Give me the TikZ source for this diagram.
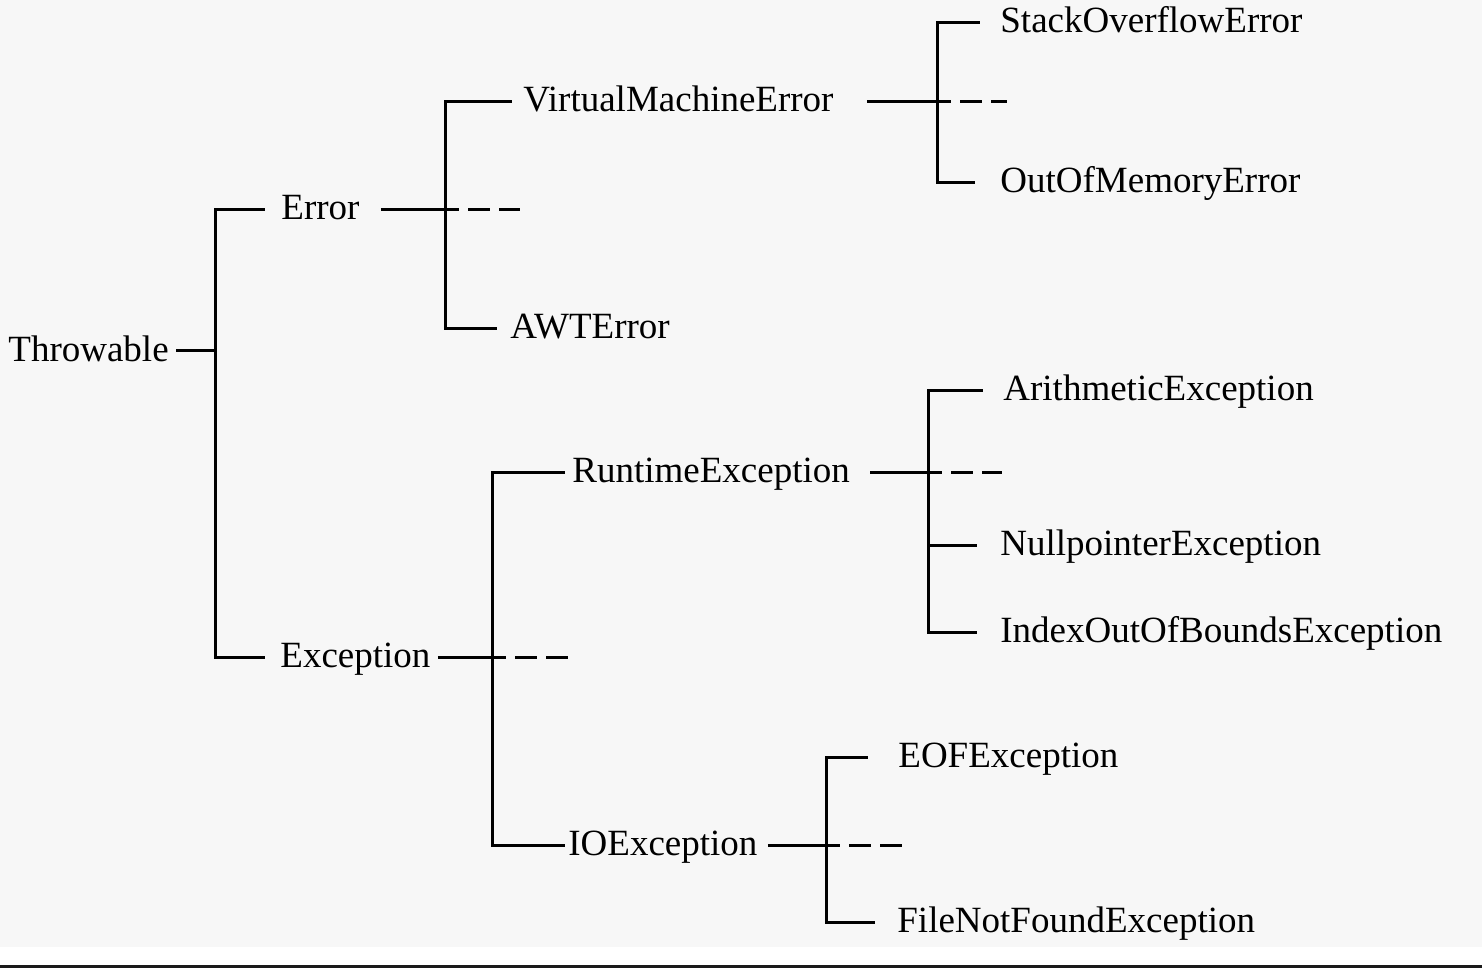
\documentclass[tikz,border=0pt]{standalone}
\usepackage{fontspec}
\setmainfont{Liberation Serif}
\usetikzlibrary{positioning}
\definecolor{paper}{HTML}{F7F7F7}
\definecolor{edge}{HTML}{1A1A1A}

\begin{document}
\begin{tikzpicture}[x=0.5pt, y=-0.5pt,
    cls/.style={anchor=base west, inner sep=0pt, font=\fontsize{18.5}{22}\selectfont},
    link/.style={line width=1.5pt},
    more/.style={line width=1.5pt, dash pattern=on 11pt off 4.5pt, dash phase=4pt}]
    \useasboundingbox (0,0) rectangle (1482,968);
    \fill[white] (0,0) rectangle (1482,968);
    \fill[paper] (0,0) rectangle (1482,947);
    \fill[edge] (0,965) rectangle (1482,968);

    % Nodes
    \node[cls] (throwable) at (8,361) {Throwable};
    \node[cls] (error) at (281,220) {Error};
    \node[cls] (vme) at (523,112) {VirtualMachineError};
    \node[cls] (awt) at (510,338) {AWTError};
    \node[cls] (soe) at (1000,33) {StackOverflowError};
    \node[cls] (oom) at (1000,193) {OutOfMemoryError};
    \node[cls] (exception) at (280,667) {Exception};
    \node[cls] (runtime) at (572,482) {RuntimeException};
    \node[cls] (io) at (568,855) {IOException};
    \node[cls] (arith) at (1003,400) {ArithmeticException};
    \node[cls] (nullp) at (1000,555) {NullpointerException};
    \node[cls] (index) at (1000,642) {IndexOutOfBoundsException};
    \node[cls] (eof) at (898,767) {EOFException};
    \node[cls] (fnf) at (897,932) {FileNotFoundException};

    % Junctions
    \coordinate (jt) at (215,350);
    \coordinate (je) at (445,210);
    \coordinate (jv) at (937,102);
    \coordinate (jx) at (492,657);
    \coordinate (jr) at (928,472);
    \coordinate (ji) at (826,845);
    \coordinate (je-tail) at (520,210);
    \coordinate (jv-tail) at (1007,102);
    \coordinate (jx-tail) at (570,657);
    \coordinate (jr-tail) at (1002,472);
    \coordinate (ji-tail) at (902,845);

    % Throwable
    \draw[link] ([xshift=3.5pt,yshift=5.5pt]throwable.base east) -- (jt);
    \draw[link] (jt) |- ([xshift=-8pt,yshift=5pt]error.base west);
    \draw[link] (jt) |- ([xshift=-7.5pt,yshift=5pt]exception.base west);

    % Error
    \draw[link] ([xshift=10.5pt,yshift=5pt]error.base east) -- (je);
    \draw[more] (je) -- (je-tail);
    \draw[link] (je) |- ([xshift=-5.5pt,yshift=5pt]vme.base west);
    \draw[link] (je) |- ([xshift=-6.5pt,yshift=5pt]awt.base west);

    % VirtualMachineError
    \draw[link] ([xshift=16.5pt,yshift=5pt]vme.base east) -- (jv);
    \draw[more] (jv) -- (jv-tail);
    \draw[link] (jv) |- ([xshift=-10pt,yshift=5pt]soe.base west);
    \draw[link] (jv) |- ([xshift=-12.5pt,yshift=5pt]oom.base west);

    % Exception
    \draw[link] ([xshift=3.5pt,yshift=5pt]exception.base east) -- (jx);
    \draw[more] (jx) -- (jx-tail);
    \draw[link] (jx) |- ([xshift=-3.5pt,yshift=5pt]runtime.base west);
    \draw[link] (jx) |- ([xshift=-1.5pt,yshift=5pt]io.base west);

    % RuntimeException
    \draw[link] ([xshift=10pt,yshift=5pt]runtime.base east) -- (jr);
    \draw[more] (jr) -- (jr-tail);
    \draw[link] (jr) |- ([xshift=-10pt,yshift=5pt]arith.base west);
    \draw[link] (jr) |- ([xshift=-11.5pt,yshift=5pt]nullp.base west);
    \draw[link] (jr) |- ([xshift=-11.5pt,yshift=5pt]index.base west);

    % IOException
    \draw[link] ([xshift=5pt,yshift=5pt]io.base east) -- (ji);
    \draw[more] (ji) -- (ji-tail);
    \draw[link] (ji) |- ([xshift=-15pt,yshift=5pt]eof.base west);
    \draw[link] (ji) |- ([xshift=-11pt,yshift=5pt]fnf.base west);
\end{tikzpicture}
\end{document}
